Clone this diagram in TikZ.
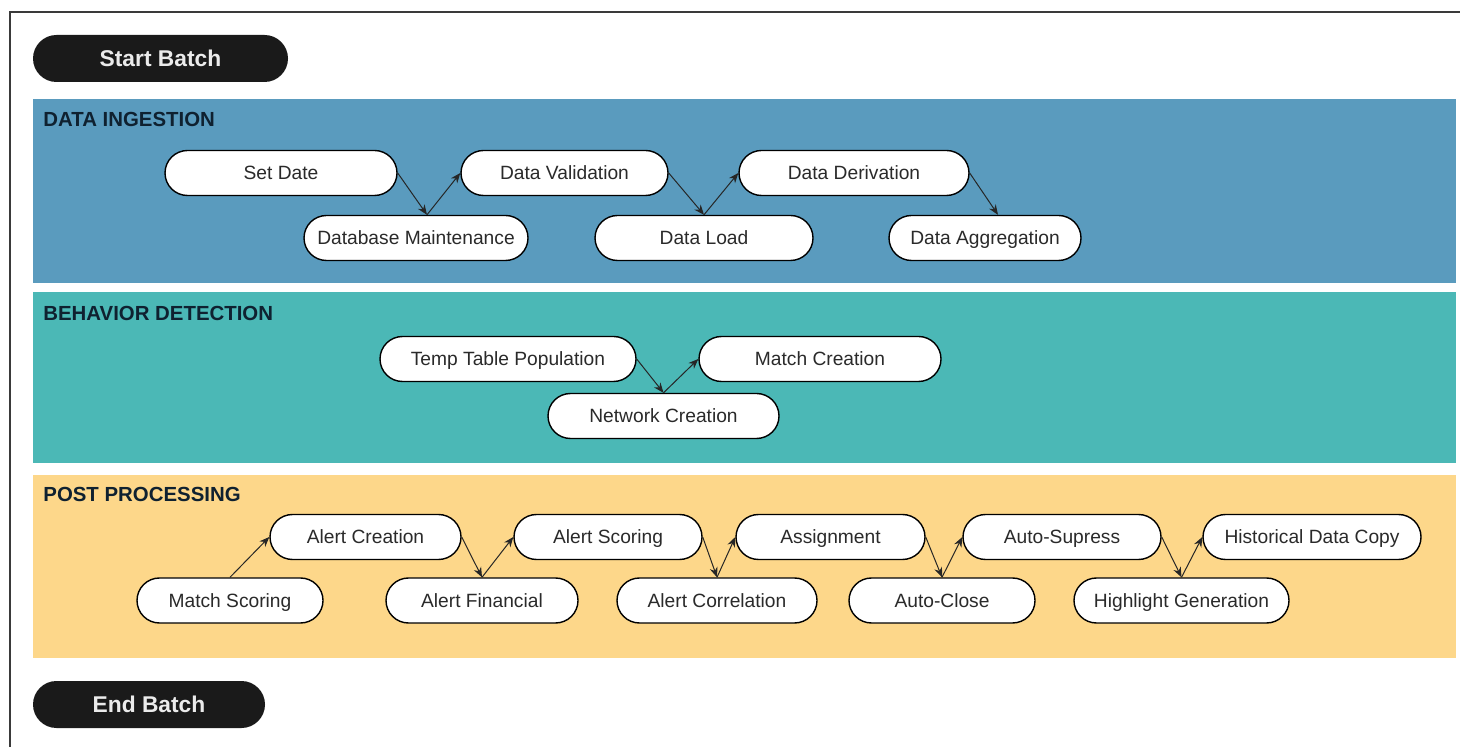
\documentclass[tikz,border=0pt]{standalone}
\usepackage{fontspec}
\setmainfont{Liberation Sans}
\usetikzlibrary{shapes.misc,arrows.meta}
\definecolor{bandblue}{HTML}{5A9BBE}
\definecolor{bandteal}{HTML}{4BB8B6}
\definecolor{bandorange}{HTML}{FDD78A}
\definecolor{labelink}{HTML}{0F2130}
\definecolor{nodeink}{HTML}{2A2A2A}
\definecolor{framegray}{HTML}{3A3A3A}
\definecolor{termfill}{HTML}{1A1A1A}
\tikzset{
  pill/.style={rounded rectangle, draw=black, line width=0.7pt, fill=white,
    minimum height=22.5pt, inner sep=0pt, text=nodeink,
    text height=7pt, text depth=0pt,
    font=\fontsize{9.6}{11}\selectfont},
  terminal/.style={rounded rectangle, fill=termfill, minimum height=23.5pt,
    inner sep=0pt, text=white!92!black, text height=8.2pt, text depth=0pt,
    font=\bfseries\fontsize{11.4}{13}\selectfont},
  bandlabel/.style={anchor=west, inner sep=0pt, text=labelink,
    font=\bfseries\fontsize{10.2}{12}\selectfont},
  flow/.style={line width=0.5pt, draw=black!85, -{Stealth[length=5pt,width=4pt]}}
}
\begin{document}
\begin{tikzpicture}[x=0.5pt,y=-0.5pt]
\useasboundingbox (0,0) rectangle (1460,747);
\fill[white] (0,0) rectangle (1460,747);
% frame
\draw[framegray, line width=1pt] (10,747) -- (10,12) -- (1460,12);
% bands
\fill[bandblue] (33,99) rectangle (1456,283);
\fill[bandteal] (33,292) rectangle (1456,463);
\fill[bandorange] (33,475) rectangle (1456,658);
\node[bandlabel] (lab1) at (43,119) {DATA INGESTION};
\node[bandlabel] (lab2) at (43,313) {BEHAVIOR DETECTION};
\node[bandlabel] (lab3) at (43,494) {POST PROCESSING};
% terminals
\node[terminal, minimum width=127.5pt] (start) at (160.5,58.5) {Start Batch};
\node[terminal, minimum width=116pt] (end) at (149,704.5) {End Batch};
% data ingestion
\node[pill, minimum width=116pt] (setdate) at (281,173) {Set Date};
\node[pill, minimum width=112pt] (dbm) at (416,238) {Database Maintenance};
\node[pill, minimum width=103.5pt] (dval) at (564.5,173) {Data Validation};
\node[pill, minimum width=109pt] (dload) at (704,238) {Data Load};
\node[pill, minimum width=115pt] (dder) at (854,173) {Data Derivation};
\node[pill, minimum width=96pt] (dagg) at (985,238) {Data Aggregation};
% behavior detection
\node[pill, minimum width=128pt] (temp) at (508,359) {Temp Table Population};
\node[pill, minimum width=121pt] (mcre) at (820,359) {Match Creation};
\node[pill, minimum width=115.5pt] (net) at (663.5,416) {Network Creation};
% post processing
\node[pill, minimum width=93pt] (mscore) at (230,600.5) {Match Scoring};
\node[pill, minimum width=95.5pt] (acre) at (365.5,537) {Alert Creation};
\node[pill, minimum width=96pt] (afin) at (482,600.5) {Alert Financial};
\node[pill, minimum width=94pt] (ascore) at (608,537) {Alert Scoring};
\node[pill, minimum width=100pt] (acorr) at (717,600.5) {Alert Correlation};
\node[pill, minimum width=94.5pt] (assign) at (830.5,537) {Assignment};
\node[pill, minimum width=93pt] (aclose) at (942,600.5) {Auto-Close};
\node[pill, minimum width=99pt] (asupp) at (1062,537) {Auto-Supress};
\node[pill, minimum width=107.5pt] (hgen) at (1181.5,600.5) {Highlight Generation};
\node[pill, minimum width=109pt] (hist) at (1312,537) {Historical Data Copy};
% connectors
\coordinate (dbmtop) at ([xshift=5.5pt]dbm.north);
\coordinate (daggtop) at ([xshift=6.5pt]dagg.north);
\draw[flow] (setdate.east) -- (dbmtop);
\draw[flow] (dbmtop) -- (dval.west);
\draw[flow] (dval.east) -- (dload.north);
\draw[flow] (dload.north) -- (dder.west);
\draw[flow] (dder.east) -- (daggtop);
\draw[flow] (temp.east) -- (net.north);
\draw[flow] (net.north) -- (mcre.west);
\draw[flow] (mscore.north) -- (acre.west);
\draw[flow] (acre.east) -- (afin.north);
\draw[flow] (afin.north) -- (ascore.west);
\draw[flow] (ascore.east) -- (acorr.north);
\draw[flow] (acorr.north) -- (assign.west);
\draw[flow] (assign.east) -- (aclose.north);
\draw[flow] (aclose.north) -- (asupp.west);
\draw[flow] (asupp.east) -- (hgen.north);
\draw[flow] (hgen.north) -- (hist.west);
\end{tikzpicture}
\end{document}
